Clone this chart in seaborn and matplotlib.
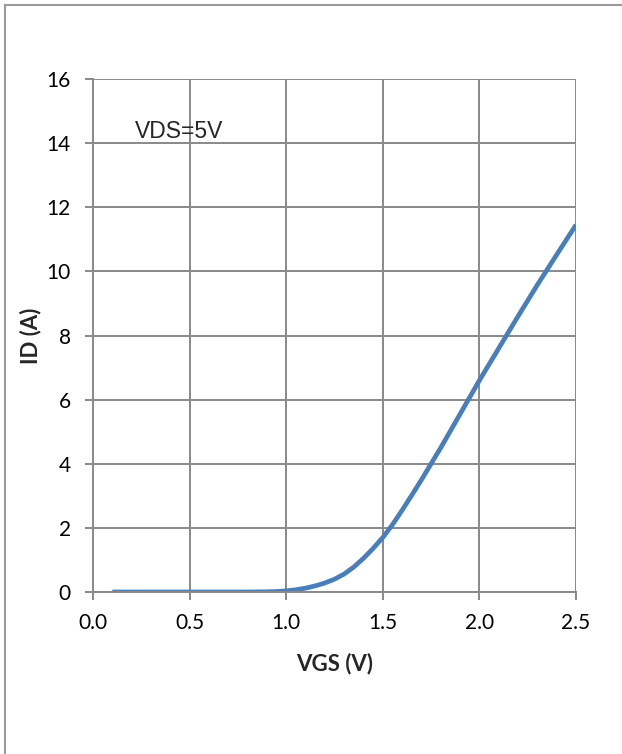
import numpy as np
import pandas as pd

import matplotlib
matplotlib.use("Agg")

import matplotlib.pyplot as plt
import seaborn as sns
from matplotlib.patches import Rectangle


# transfer characteristic
vgs = [0.1, 0.2, 0.3, 0.4, 0.5, 0.6, 0.7, 0.8, 0.9, 0.95, 1.0, 1.05, 1.1, 1.15,
       1.2, 1.25, 1.3, 1.35, 1.4, 1.45, 1.5, 1.55, 1.6, 1.65, 1.7, 1.8, 1.9,
       2.0, 2.1, 2.2, 2.3, 2.4, 2.5]
id_amps = [0.0, 0.0, 0.0, 0.0, 0.0, 0.0, 0.0, 0.0, 0.005, 0.015, 0.035, 0.07, 0.12, 0.19,
           0.28, 0.4, 0.56, 0.78, 1.05, 1.36, 1.7, 2.1, 2.55, 3.02, 3.5, 4.5, 5.55,
           6.6, 7.6, 8.6, 9.58, 10.52, 11.45]
x_ticks = [0.0, 0.5, 1.0, 1.5, 2.0, 2.5]
y_ticks = [0, 2, 4, 6, 8, 10, 12, 14, 16]
note = "VDS=5V"

grid_color = "#898989"
line_color = "#4a7ebb"

sns.set_style("white")
plt.rcParams["font.family"] = ["Lato", "DejaVu Sans"]

df = pd.DataFrame({"VGS": vgs, "ID": id_amps})

fig = plt.figure(figsize=(6.22, 7.54), dpi=100)
ax = fig.add_axes([93 / 622, 1 - 592 / 754, (576 - 93) / 622, (592 - 79) / 754])

sns.lineplot(data=df, x="VGS", y="ID", color=line_color, linewidth=3.4,
             ax=ax, solid_capstyle="butt", solid_joinstyle="round")

ax.set_xlim(0, 2.5)
ax.set_ylim(0, 16)
ax.set_xticks(x_ticks)
ax.set_xticklabels([f"{t:.1f}" for t in x_ticks])
ax.set_yticks(y_ticks)
ax.grid(True, color=grid_color, linewidth=1.4)
ax.set_axisbelow(True)
for side in ["top", "right", "left", "bottom"]:
    ax.spines[side].set_visible(side in ("left", "bottom"))
    ax.spines[side].set_color(grid_color)
    ax.spines[side].set_linewidth(1.4)

ax.tick_params(axis="both", which="major", direction="out", length=6, width=1.4,
               color=grid_color, labelsize=15, labelcolor="black",
               left=True, bottom=True)
ax.tick_params(axis="x", pad=9)
ax.tick_params(axis="y", pad=10)

ax.set_xlabel("VGS (V)", fontsize=16, fontweight="bold", labelpad=14)
ax.set_ylabel("ID (A)", fontsize=16, fontweight="bold", labelpad=4)

ax.text(0.217, 14.35, note, fontsize=16.5, family="Liberation Sans",
        ha="left", va="center")

# chart area border (top and left edges visible in the crop)
fig.patches.append(Rectangle((5 / 622, -0.1), 1.2, 1 - 5 / 754 + 0.1,
                             transform=fig.transFigure, fill=False,
                             edgecolor="#9a9a9a", linewidth=1.5))

fig.savefig("out.png", dpi=100)
plt.close(fig)
